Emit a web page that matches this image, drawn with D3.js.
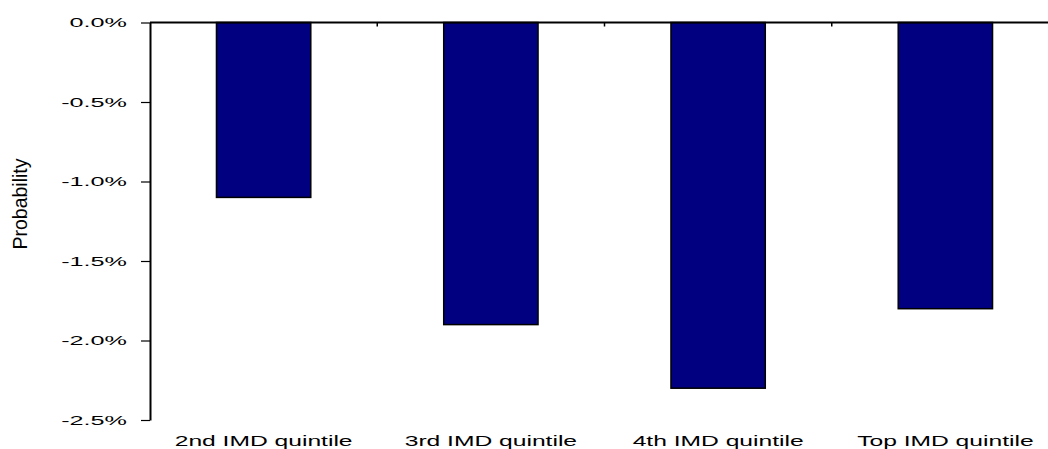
<!DOCTYPE html>
<html>
<head>
<meta charset="utf-8">
<script src="https://cdn.jsdelivr.net/npm/d3@7"></script>
<style>
  body { margin: 0; background: #fff; }
  svg { display: block; }
  text { font-family: "Liberation Sans", Arial, sans-serif; fill: #000; }
</style>
</head>
<body>
<svg id="chart" width="1048" height="449"></svg>
<script>
// values are percentage points
var categories = ['2nd IMD quintile', '3rd IMD quintile', '4th IMD quintile', 'Top IMD quintile'];
var values = [-1.1, -1.9, -2.3, -1.8];
var y_ticks = [0, -0.5, -1.0, -1.5, -2.0, -2.5];
var y_title = 'Probability';

var svg = d3.select('#chart');

var x = d3.scaleBand()
    .domain(categories)
    .range([150, 1059])
    .paddingInner(0.585)
    .paddingOuter(0.2925);

var y = d3.scaleLinear()
    .domain([-2.5, 0])
    .range([420, 22.5]);

var fmt = function(d) { return d.toFixed(1) + '%'; };

// bars hang down from zero
svg.append('g')
    .selectAll('rect')
    .data(values)
    .enter()
    .append('rect')
    .attr('x', function(d, i) { return x(categories[i]); })
    .attr('y', y(0))
    .attr('width', x.bandwidth())
    .attr('height', function(d) { return y(d) - y(0); })
    .style('fill', '#000080')
    .style('stroke', '#000')
    .style('stroke-width', 1.5);

// y axis
var yAxis = svg.append('g')
    .attr('transform', 'translate(150,0)')
    .call(d3.axisLeft(y).tickValues(y_ticks).tickFormat(fmt).tickSize(9).tickSizeOuter(0));
yAxis.select('.domain').style('stroke-width', 2);
yAxis.selectAll('line').style('stroke-width', 1.2);
yAxis.selectAll('text')
    .attr('x', 0)
    .attr('dy', '0.36em')
    .attr('transform', 'translate(-23,0) scale(2.1,1)')
    .style('font-family', '"Liberation Sans", Arial, sans-serif')
    .style('font-size', '12px');

// top axis at zero, ticks between categories
var step = x.step();
var bounds = categories.slice(1).map(function(c) { return x(c) - x.paddingInner() * step / 2; });
svg.append('line')
    .attr('x1', 150).attr('x2', 1048)
    .attr('y1', y(0)).attr('y2', y(0))
    .style('stroke', '#000')
    .style('stroke-width', 2);
svg.append('g')
    .selectAll('line')
    .data(bounds)
    .enter()
    .append('line')
    .attr('x1', function(d) { return d; })
    .attr('x2', function(d) { return d; })
    .attr('y1', y(0))
    .attr('y2', y(0) + 4)
    .style('stroke', '#000')
    .style('stroke-width', 1.5);

// category labels
svg.append('g')
    .selectAll('text')
    .data(categories)
    .enter()
    .append('text')
    .attr('transform', function(d) {
        return 'translate(' + (x(d) + x.bandwidth() / 2) + ',446) scale(1.76,1)';
    })
    .attr('text-anchor', 'middle')
    .style('font-size', '14px')
    .text(function(d) { return d; });

svg.append('text')
    .attr('transform', 'translate(27,204) rotate(-90)')
    .attr('text-anchor', 'middle')
    .style('font-size', '19.5px')
    .text(y_title);
</script>
</body>
</html>
